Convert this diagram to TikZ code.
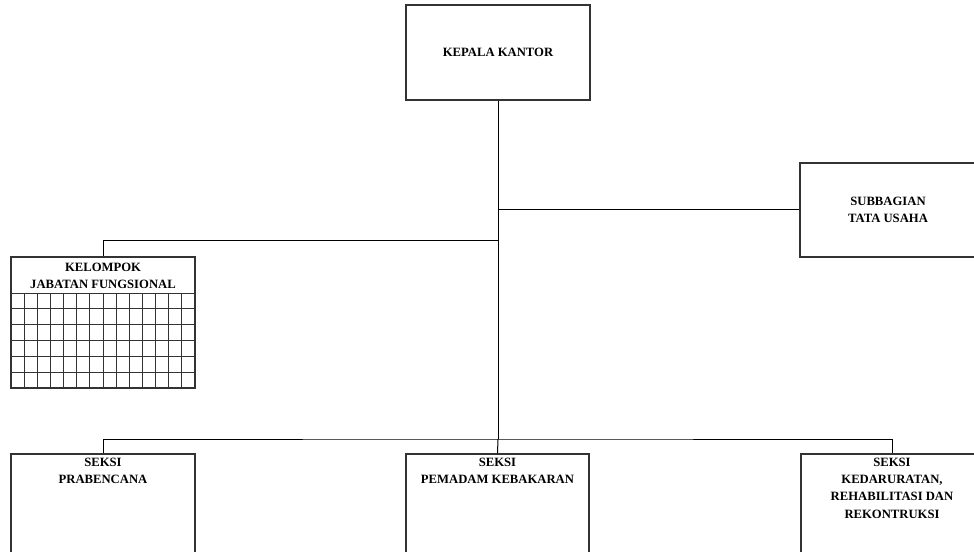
\documentclass[tikz,border=0pt]{standalone}
\usepackage{fontspec}
\setmainfont{Liberation Serif}
\usetikzlibrary{positioning}

\tikzset{
  unitbox/.style={draw=black!80, line width=0.9pt, inner sep=0pt},
  unittext/.style={align=center, inner sep=0pt, font=\fontsize{9.5}{13}\selectfont\bfseries},
  link/.style={line width=0.75pt, black}
}

\begin{document}
\begin{tikzpicture}[x=0.75pt, y=0.75pt, yscale=-1] % flip y axis, 1 unit = 1 px
      \useasboundingbox (0,0) rectangle (974,552);
      \clip (0,0) rectangle (974,552);
      % boxes
      \node[unitbox, unittext, minimum width=138pt, minimum height=71.25pt] (kepala) at (498,52.5) {KEPALA KANTOR};
      \node[unitbox, unittext, minimum width=132pt, minimum height=70.5pt] (tu) at (888,210) {SUBBAGIAN\\TATA USAHA};
      \node[unitbox, minimum width=138pt, minimum height=98.25pt] (jf) at (103,322.5) {};
      \node[unitbox, minimum width=138pt, minimum height=112.5pt] (prab) at (103,529) {};
      \node[unitbox, minimum width=137.25pt, minimum height=112.5pt] (pemadam) at (497.5,529) {};
      \node[unitbox, minimum width=136.5pt, minimum height=112.5pt] (darurat) at (892,529) {};
      % texts at the top of the boxes
      \node[unittext, below=4.5pt of jf.north] (jftext) {KELOMPOK\\JABATAN FUNGSIONAL};
      \node[unittext, below=3pt of prab.north] (prabtext) {SEKSI\\PRABENCANA};
      \node[unittext, below=3pt of pemadam.north] (pemadamtext) {SEKSI\\PEMADAM KEBAKARAN};
      \node[unittext, below=3pt of darurat.north] (descrtext) {SEKSI\\KEDARURATAN,\\REHABILITASI DAN\\REKONTRUKSI};
      % grid of the functional group
      \foreach \j in {0,...,5}{
          \draw[black!80, line width=0.7pt] (11,293+\j*15.833) -- (195,293+\j*15.833);
        }
      \foreach \i in {1,...,13}{
          \draw[black!80, line width=0.7pt] (11+\i*13.143,293) -- (11+\i*13.143,388);
        }
      % connectors
      \coordinate (bus) at (498,439);
      \coordinate (jfbranch) at (498,241);
      \draw[link] (kepala.south) -- (bus);
      \draw[link] (kepala.south |- tu.west) -- (tu.west);
      \draw[link] (jfbranch) -| (jf.north);
      \draw[link] (prab.north) |- (bus) -| (darurat.north);
      \draw[link] (bus) -- (pemadam.north);
    \end{tikzpicture}
\end{document}
